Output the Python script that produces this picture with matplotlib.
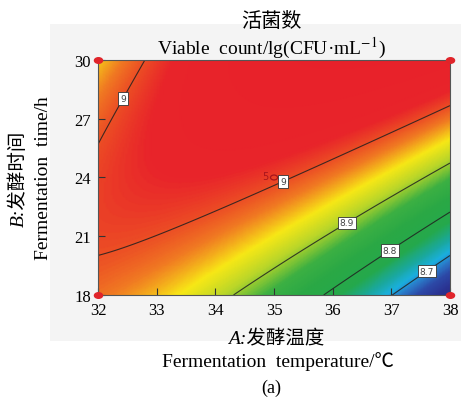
import numpy as np
import matplotlib
matplotlib.use('Agg')
import matplotlib.pyplot as plt
from matplotlib.colors import LinearSegmentedColormap, Normalize
from matplotlib.patches import Rectangle
from matplotlib.path import Path
from matplotlib.transforms import Affine2D

plt.rcParams['font.family'] = ['Liberation Serif', 'Noto Sans CJK SC']
plt.rcParams['mathtext.fontset'] = 'stix'

# quadratic response model in coded units (A=(T-35)/3, B=(t-24)/6)
# Y = b0 + bA*A + bB*B + bAB*A*B + bA2*A^2 + bB2*B^2
model_terms = ['b0', 'bA', 'bB', 'bAB', 'bA2', 'bB2']
model_coef = [9.0076, -0.0677, 0.1092, 0.1240, -0.0680, -0.0389]

temp_range = [32, 38]
time_range = [18, 30]
x_ticks = [32, 33, 34, 35, 36, 37, 38]
y_ticks = [18, 21, 24, 27, 30]
levels = [8.7, 8.8, 8.9, 9.0]
# where the contour labels sit
label_temp = [32.44, 35.15, 36.23, 36.94, 37.57]
label_time = [28.0, 23.82, 21.73, 20.4, 19.38]
# design points
design_temp = [32, 38, 32, 38]
design_time = [18, 18, 30, 30]
center_temp, center_time, center_runs = 35, 24, 5

temp = np.linspace(temp_range[0], temp_range[1], 241)
time = np.linspace(time_range[0], time_range[1], 241)
T, H = np.meshgrid(temp, time)
A = (T - 35) / 3
B = (H - 24) / 6
c = model_coef
Z = c[0] + c[1] * A + c[2] * B + c[3] * A * B + c[4] * A ** 2 + c[5] * B ** 2

# blue-green-yellow-red scale
stops = [(8.60, '#28318a'), (8.62, '#2a3190'), (8.66, '#2c4aa8'), (8.69, '#2a80cc'),
         (8.71, '#1ab0e0'), (8.74, '#1aa8a0'), (8.78, '#25a84c'), (8.83, '#2aa845'),
         (8.87, '#3cb043'), (8.91, '#b9d62a'), (8.945, '#f8e816'), (8.98, '#f07a22'),
         (9.00, '#ec5024'), (9.025, '#e8242a'), (9.12, '#e8202a')]
vmin, vmax = stops[0][0], stops[-1][0]
cmap = LinearSegmentedColormap.from_list(
    'de', [((v - vmin) / (vmax - vmin), col) for v, col in stops])

fig = plt.figure(figsize=(4.61, 4.02), dpi=100)
fig.patches.append(Rectangle((0.1085, 0.150), 0.8915, 0.788, transform=fig.transFigure,
                             facecolor='#f4f4f4', edgecolor='none', zorder=-1))
ax = fig.add_axes([0.2126, 0.2637, 0.7636, 0.5846])
ax.pcolormesh(T, H, Z, cmap=cmap, norm=Normalize(vmin, vmax), shading='gouraud', rasterized=True)
cs = ax.contour(T, H, Z, levels=levels, colors='#202020', linewidths=0.8, alpha=0.85)
lbls = ax.clabel(cs, levels, manual=list(zip(label_temp, label_time)), inline=False,
                 fontsize=6.5, fmt=lambda v: '%g' % v, colors='#222222')
for t in lbls:
    t.set_rotation(0)
    t.set_family('DejaVu Sans')
    t.set_bbox(dict(boxstyle='square,pad=0.2', facecolor='white', edgecolor='#333333',
                    linewidth=0.6))

ell = Path.unit_circle().transformed(Affine2D().scale(1.45, 1.0))
ax.scatter(design_temp, design_time, marker=ell, s=34, color='#e0242a', zorder=5, clip_on=False)
ax.scatter([center_temp], [center_time], marker=ell, s=26, facecolor='none', edgecolor='#a8141c',
           linewidth=0.9, zorder=5)
ax.text(center_temp - 0.1, center_time + 0.08, str(center_runs), color='#a8141c', fontsize=7,
        family='DejaVu Sans', ha='right', va='center', zorder=5)

ax.set_xlim(temp_range)
ax.set_ylim(time_range)
ax.set_xticks(x_ticks)
ax.set_yticks(y_ticks)
ax.tick_params(direction='in', length=5, labelsize=12, color='#333333', pad=5)
for s in ax.spines.values():
    s.set_color('#555555')
    s.set_linewidth(0.8)

fig.text(0.588, 0.945, '活菌数', ha='center', va='center', fontsize=14.5)
fig.text(0.588, 0.88, 'Viable  count/lg(CFU·mL$^{-1}$)', ha='center', va='center', fontsize=14)
fig.text(0.04, 0.555, 'B:发酵时间', ha='center', va='center', rotation=90, fontsize=14,
         style='italic')
fig.text(0.095, 0.557, 'Fermentation  time/h', ha='center', va='center', rotation=90, fontsize=14)
fig.text(0.60, 0.155, 'A:发酵温度', ha='center', va='center', fontsize=14, style='italic')
fig.text(0.604, 0.10, 'Fermentation  temperature/℃', ha='center', va='center', fontsize=14)
fig.text(0.588, 0.035, '(a)', ha='center', va='center', fontsize=13)

fig.savefig('out.png', dpi=100)
